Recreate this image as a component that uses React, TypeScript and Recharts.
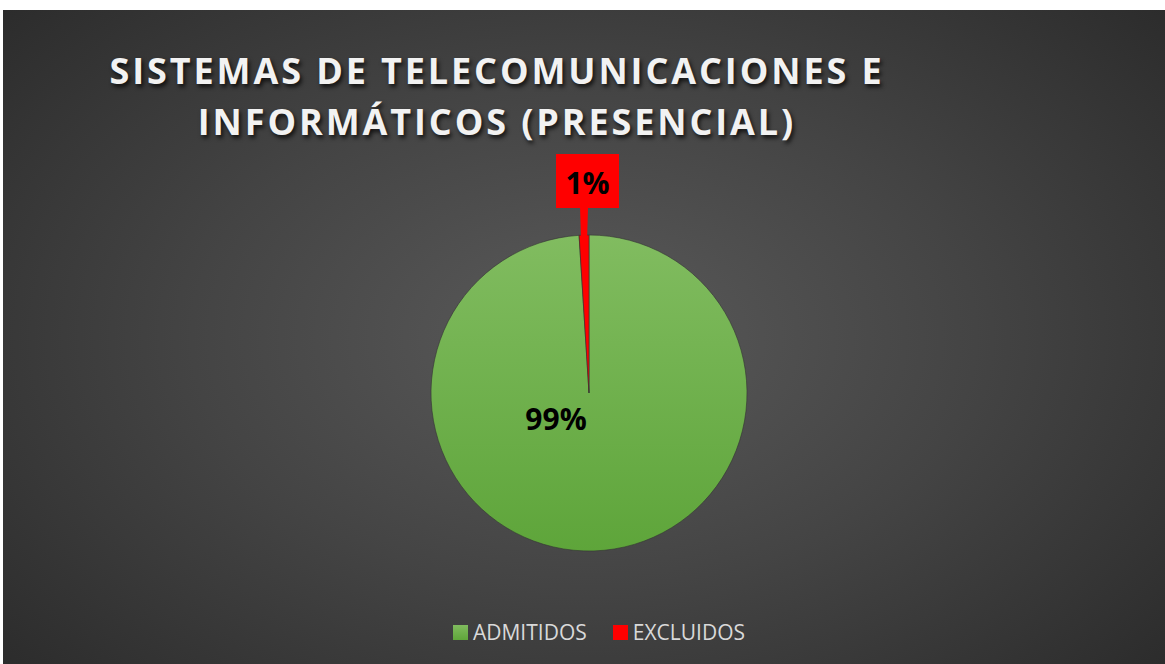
import { PieChart, Pie, Cell, Legend } from "recharts";

const categories = ["ADMITIDOS", "EXCLUIDOS"];
const shares = [99, 1];
const percentLabels = ["99%", "1%"];
const sliceColors = ["url(#greenFill)", "#ff0000"];
const legendColors = ["#70ad47", "#ff0000"];

const data = categories.map((name, i) => ({ name, value: shares[i] }));

const RAD = Math.PI / 180;

function renderLabel(props: any) {
  const { cx, cy, midAngle, outerRadius, index } = props;
  if (index === 0) {
    return (
      <text
        x={cx - 33}
        y={cy + 25}
        textAnchor="middle"
        dominantBaseline="central"
        fontFamily="'Open Sans', sans-serif"
        fontWeight={700}
        fontSize={30}
        fill="#000"
      >
        {percentLabels[0]}
      </text>
    );
  }
  // callout box above the pie with a pointer down to the thin slice
  const bx = cx - 33;
  const by = cy - 239;
  const bw = 63;
  const bh = 54;
  const tipX = cx + outerRadius * Math.cos(-midAngle * RAD);
  const tipY = cy + outerRadius * Math.sin(-midAngle * RAD) + 6;
  return (
    <g>
      <polygon
        points={`${tipX - 4},${by + bh - 1} ${tipX + 4},${by + bh - 1} ${tipX + 3},${tipY} ${tipX - 3},${tipY}`}
        fill="#ff0000"
      />
      <rect x={bx} y={by} width={bw} height={bh} fill="#ff0000" />
      <text
        x={bx + bw / 2}
        y={by + bh / 2 + 1}
        textAnchor="middle"
        dominantBaseline="central"
        fontFamily="'Open Sans', sans-serif"
        fontWeight={700}
        fontSize={30}
        fill="#000"
      >
        {percentLabels[index]}
      </text>
    </g>
  );
}

function LegendContent() {
  return (
    <div
      style={{
        display: "flex",
        justifyContent: "center",
        gap: 26,
        fontFamily: "'Open Sans', sans-serif",
        fontSize: 21,
        color: "#d9d9d9",
        marginLeft: 30,
      }}
    >
      {categories.map((c, i) => (
        <div key={c} style={{ display: "flex", alignItems: "center", gap: 5 }}>
          <span
            style={{
              display: "inline-block",
              width: 15,
              height: 15,
              background: i === 0 ? "linear-gradient(#80bb5e, #5fa63a)" : legendColors[i],
            }}
          />
          <span>{c}</span>
        </div>
      ))}
    </div>
  );
}

export default function App() {
  return (
    <div
      style={{
        position: "absolute",
        left: 3,
        top: 10,
        width: 1162,
        height: 654,
        background:
          "radial-gradient(ellipse 75% 85% at 50% 50%, #5a5a5a 0%, #444 45%, #262626 100%)",
      }}
    >
      <div
        style={{
          position: "absolute",
          left: 0,
          top: 35,
          width: 988,
          textAlign: "center",
          fontFamily: "'Open Sans', sans-serif",
          fontWeight: 700,
          fontSize: 36,
          lineHeight: "51px",
          letterSpacing: 2.9,
          color: "#f2f2f2",
          textShadow: "2px 3px 4px rgba(0,0,0,0.75)",
        }}
      >
        SISTEMAS DE TELECOMUNICACIONES E
        <br />
        INFORMÁTICOS (PRESENCIAL)
      </div>
      <PieChart
        width={1162}
        height={654}
        margin={{ top: 0, right: 0, bottom: 0, left: 0 }}
        style={{ position: "absolute", left: 0, top: 0 }}
      >
        <defs>
          <linearGradient id="greenFill" x1="0" y1="0" x2="0" y2="1">
            <stop offset="0%" stopColor="#81bc60" />
            <stop offset="100%" stopColor="#5ea53a" />
          </linearGradient>
        </defs>
        <Pie
          data={data}
          dataKey="value"
          nameKey="name"
          cx={586}
          cy={383}
          outerRadius={158}
          startAngle={90}
          endAngle={-270}
          stroke="#333"
          strokeWidth={0.6}
          label={renderLabel}
          labelLine={false}
          isAnimationActive={false}
        >
          {data.map((d, i) => (
            <Cell key={d.name} fill={sliceColors[i]} />
          ))}
        </Pie>
        <Legend
          verticalAlign="bottom"
          content={<LegendContent />}
          wrapperStyle={{ bottom: 18 }}
        />
      </PieChart>
    </div>
  );
}
